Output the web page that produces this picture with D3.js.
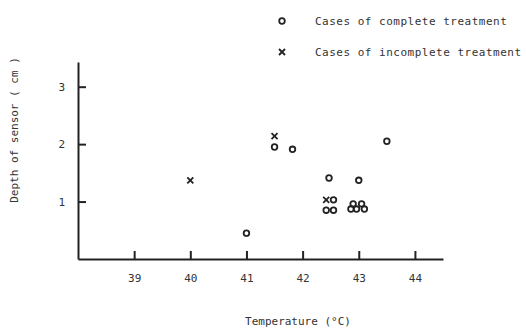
<!DOCTYPE html>
<html>
<head>
<meta charset="utf-8">
<script src="https://cdn.jsdelivr.net/npm/d3@7"></script>
<style>
  body { margin: 0; background: #fff; }
  text { font-family: "DejaVu Sans Mono", monospace; fill: #333; }
</style>
</head>
<body>
<script>
// complete treatment (circles)
var completeTemp  = [41.0, 41.5, 41.82, 42.47, 43.0, 43.5, 42.55, 42.42, 42.55, 42.9, 43.05, 42.86, 42.96, 43.1];
var completeDepth = [0.45, 1.95, 1.91, 1.41, 1.37, 2.05, 1.03, 0.85, 0.85, 0.96, 0.96, 0.87, 0.87, 0.87];
// incomplete treatment (crosses)
var incompleteTemp  = [40.0, 41.5, 42.42];
var incompleteDepth = [1.37, 2.14, 1.03];
var xTicks = [39, 40, 41, 42, 43, 44];
var yTicks = [1, 2, 3];

var W = 526, H = 328;
var svg = d3.select("body").append("svg").attr("width", W).attr("height", H);

var x = d3.scaleLinear().domain([38, 44.5]).range([78, 443]);
var y = d3.scaleLinear().domain([0, 3.43]).range([259, 62]);

var ink = "#222";

var gx = svg.append("g").attr("transform", "translate(0,259)")
  .call(d3.axisBottom(x).tickValues(xTicks).tickFormat(d3.format("d"))
        .tickSizeInner(-8).tickSizeOuter(0).tickPadding(15));
var gy = svg.append("g").attr("transform", "translate(78,0)")
  .call(d3.axisLeft(y).tickValues(yTicks).tickFormat(d3.format("d"))
        .tickSizeInner(-8).tickSizeOuter(0).tickPadding(13));

[gx, gy].forEach(function(g) {
  g.select(".domain").attr("stroke", ink).attr("stroke-width", 2);
  g.selectAll(".tick line").attr("stroke", ink).attr("stroke-width", 2);
  g.selectAll(".tick text").attr("fill", "#333").style("font-size", "11px")
    .style("font-family", "'DejaVu Sans Mono', monospace");
});

svg.append("text").attr("x", 298).attr("y", 325).attr("text-anchor", "middle")
  .style("font-size", "11px").text("Temperature (°C)");

svg.append("text").attr("transform", "translate(18,130) rotate(-90)")
  .attr("text-anchor", "middle").style("font-size", "11px")
  .text("Depth of sensor ( cm )");

function cross(g, cx, cy, s) {
  g.append("path")
    .attr("d", "M" + (cx - s) + "," + (cy - s) + "L" + (cx + s) + "," + (cy + s) +
               "M" + (cx - s) + "," + (cy + s) + "L" + (cx + s) + "," + (cy - s))
    .attr("stroke", ink).attr("stroke-width", 1.8).attr("fill", "none");
}

var pts = svg.append("g");
pts.selectAll("circle").data(completeTemp).enter().append("circle")
  .attr("cx", function(d) { return x(d); })
  .attr("cy", function(d, i) { return y(completeDepth[i]); })
  .attr("r", 2.8).attr("fill", "none").attr("stroke", ink).attr("stroke-width", 1.8);

incompleteTemp.forEach(function(t, i) {
  cross(pts, x(t), y(incompleteDepth[i]), 3);
});

// legend
var lg = svg.append("g");
lg.append("circle").attr("cx", 282).attr("cy", 21).attr("r", 2.8)
  .attr("fill", "none").attr("stroke", ink).attr("stroke-width", 1.8);
cross(lg, 282, 52, 3);
lg.append("text").attr("x", 315).attr("y", 25).style("font-size", "11px")
  .style("letter-spacing", "0.5px").text("Cases of complete treatment");
lg.append("text").attr("x", 315).attr("y", 56).style("font-size", "11px")
  .style("letter-spacing", "0.5px").text("Cases of incomplete treatment");
</script>
</body>
</html>
